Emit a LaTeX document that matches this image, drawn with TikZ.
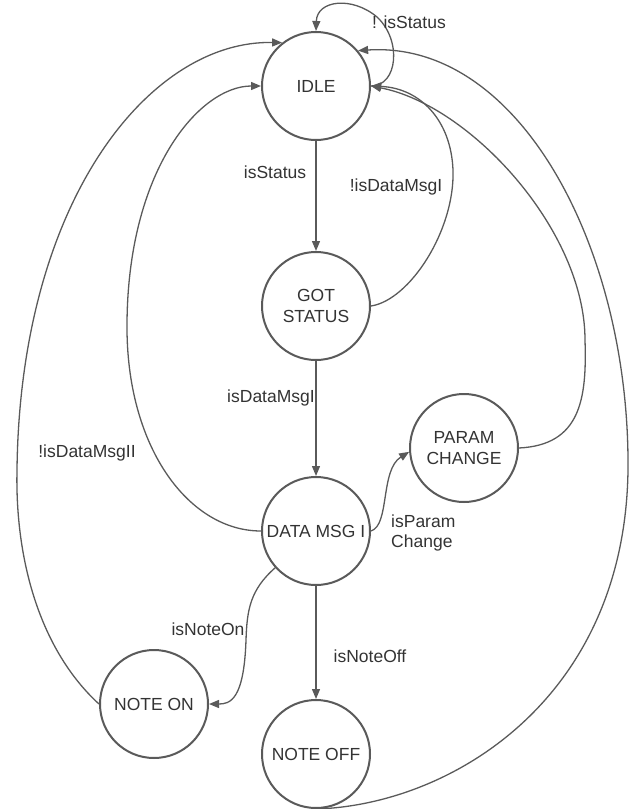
\documentclass[tikz,border=0pt]{standalone}
\usepackage{fontspec}
\setmainfont{Liberation Sans}
\usetikzlibrary{arrows.meta}
\definecolor{linec}{HTML}{5A5A5A}
\definecolor{textc}{HTML}{333333}
\begin{document}
\begin{tikzpicture}[x=1pt,y=-1pt,
  state/.style={circle,draw=linec,line width=2pt,minimum size=108pt,inner sep=0pt,
    text=textc,align=center,font=\fontsize{17.5}{21}\selectfont},
  lbl/.style={text=textc,font=\fontsize{17.5}{20}\selectfont,inner sep=0pt},
  edge/.style={draw=linec,line width=1.3pt,-{Triangle[length=10pt,width=8pt]}},
  plain/.style={draw=linec,line width=1.3pt}]
\useasboundingbox (0,0) rectangle (632,809);
\node[state] (idle) at (316,86) {IDLE};
\node[state] (got) at (316,306) {GOT\\STATUS};
\node[state] (dmsg) at (316,531) {DATA MSG I};
\node[state] (param) at (464,448) {PARAM\\CHANGE};
\node[state] (noteon) at (154,704) {NOTE ON};
\node[state] (noteoff) at (316,754) {NOTE OFF};
% self loop
\draw[edge] (idle.east) .. controls (398,86) and (402,40) .. (377,17)
  .. controls (352,-4) and (317,0) .. (idle.north);
% straight edges
\draw[edge] (idle.south) -- (got.north);
\draw[edge] (got.south) -- (dmsg.north);
\draw[edge] (dmsg.south) -- (noteoff.north);
% param -> idle
\draw[edge] (param.east) .. controls (580,445) and (587,400) .. (585,340)
  .. controls (585,230) and (470,105) .. (idle.east);
% got -> idle
\draw[edge] (got.east) .. controls (410,300) and (455,230) .. (453,170)
  .. controls (451,120) and (420,88) .. (idle.east);
% note off -> idle
\draw[edge] (noteoff.south) .. controls (450,805) and (625,700) .. (628,470)
  .. controls (630,250) and (520,40) .. (idle.40);
% data msg -> idle
\draw[edge] (dmsg.west) .. controls (190,531) and (128,450) .. (127,330)
  .. controls (126,170) and (200,86) .. (idle.west);
% note on -> idle
\draw[edge] (noteon.west) .. controls (40,650) and (15,560) .. (17,470)
  .. controls (20,200) and (150,40) .. (idle.128);
% data msg -> param
\draw[edge] (dmsg.east) .. controls (390,525) and (380,470) .. (param.184);
% data msg -> note on
\draw[edge] (dmsg.222) .. controls (250,590) and (247,610) .. (246,640)
  .. controls (244,700) and (230,704) .. (noteon.east);
% labels
\node[lbl] (l1) at (409,22) {! isStatus};
\node[lbl] (l2) at (275,172) {isStatus};
\node[lbl] (l3) at (396,187) {!isDataMsgI};
\node[lbl] (l4) at (271,398) {isDataMsgI};
\node[lbl,align=left,anchor=west] (l5) at (391,533) {isParam\\Change};
\node[lbl] (l6) at (208,629) {isNoteOn};
\node[lbl] (l7) at (370,656) {isNoteOff};
\node[lbl] (l8) at (87,453) {!isDataMsgII};
\end{tikzpicture}
\end{document}
